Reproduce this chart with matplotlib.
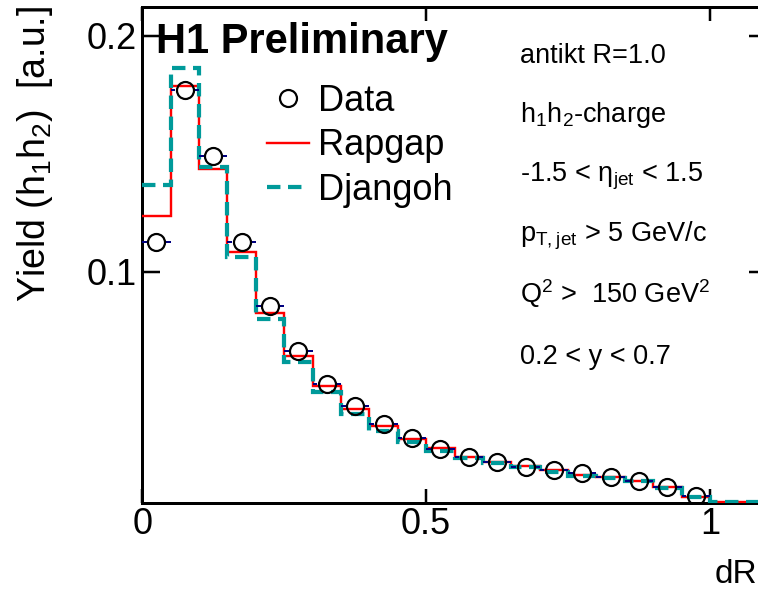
import numpy as np
import matplotlib
matplotlib.use("Agg")
import matplotlib.pyplot as plt
from matplotlib.lines import Line2D

plt.rcParams['font.family'] = ['Liberation Sans', 'DejaVu Sans']
plt.rcParams['mathtext.default'] = 'regular'

# ---- data ----
bin_edges = np.round(np.arange(0, 1.1001, 0.05), 3)          # 22 bins, 0 .. 1.1
data_x = np.round(np.arange(0.025, 1.0, 0.05), 3)             # 20 data points
data_y = [0.1127, 0.1770, 0.1490, 0.1125, 0.0855, 0.0665, 0.0524, 0.0431,
          0.0355, 0.0294, 0.0247, 0.0214, 0.0192, 0.0174, 0.0160, 0.0146,
          0.0129, 0.0114, 0.0089, 0.0050]
rapgap = [0.1236, 0.1787, 0.1434, 0.1082, 0.0824, 0.0643, 0.0517, 0.0418,
          0.0346, 0.0290, 0.0254, 0.0216, 0.0195, 0.0177, 0.0160, 0.0139,
          0.0131, 0.0114, 0.0086, 0.0047, 0.0022, 0.0022]
djangoh = [0.1366, 0.1862, 0.1445, 0.1061, 0.0798, 0.0619, 0.0492, 0.0396,
           0.0326, 0.0280, 0.0240, 0.0212, 0.0188, 0.0171, 0.0153, 0.0134,
           0.0127, 0.0113, 0.0085, 0.0047, 0.0022, 0.0022]
xticks = [0, 0.5, 1]
xticklabels = ['0', '0.5', '1']
yticks = [0.1, 0.2]
yticklabels = ['0.1', '0.2']
info_lines = ['antikt R=1.0',
              'h$_1$h$_2$-charge',
              '-1.5 < η$_{jet}$ < 1.5',
              'p$_{T,jet}$ > 5 GeV/c',
              'Q$^2$ >  150 GeV$^2$',
              '0.2 < y < 0.7']

W, H = 758, 593
fig = plt.figure(figsize=(W / 100, H / 100), dpi=100)
PX = 0.72  # points per pixel

def fx(px):
    return px / W

def fy(py):
    return (H - py) / H

ax = fig.add_axes([fx(142.3), fy(502.7), 624.5 / W, 495.7 / H])
ax.set_xlim(0, 1.1)
ax.set_ylim(0.0021, 0.2122)

teal = '#009a9a'
ax.stairs(rapgap, bin_edges, color='#ff0000', lw=2.4 * PX, baseline=None,
          zorder=3)
ax.stairs(djangoh, bin_edges, color=teal, lw=4.2 * PX, baseline=None,
          linestyle=(0, (3.2, 1.8)), zorder=4)

# x error bars (drawn with a gap around the marker)
dx = np.array(data_x)
dy = np.array(data_y)
half = 0.025
r = 9.5 / 567.7
ax.hlines(dy, dx - half, dx - r, color='#000080', lw=2 * PX, zorder=5)
ax.hlines(dy, dx + r, dx + half, color='#000080', lw=2 * PX, zorder=5)
ax.plot(dx, dy, linestyle='none', marker='o', ms=17 * PX, mfc='none',
        mec='black', mew=2.2 * PX, zorder=6)

# axes styling
for s in ax.spines.values():
    s.set_linewidth(3 * PX)
ax.set_xticks(xticks)
ax.set_xticklabels(xticklabels)
ax.set_yticks(yticks)
ax.set_yticklabels(yticklabels)
ax.tick_params(axis='x', which='major', direction='in', length=14 * PX,
               width=2.5 * PX, labelsize=26, pad=3, top=True)
ax.tick_params(axis='y', which='major', direction='in', length=18 * PX,
               width=2.5 * PX, labelsize=26, pad=4, right=True)
ax.minorticks_off()

# titles / labels
fig.text(fx(156), fy(53), 'H1 Preliminary', fontsize=30, fontweight='bold',
         ha='left', va='baseline')
fig.text(fx(35), fy(6), 'Yield (h$_1$h$_2$)  [a.u.]', fontsize=27,
         rotation=90, ha='center', va='top')
fig.text(fx(715), fy(583), 'dR', fontsize=24, ha='left', va='baseline')

base = [63, 122, 182, 242, 303, 364]
for t, b in zip(info_lines, base):
    fig.text(fx(520), fy(b), t, fontsize=19.5, ha='left', va='baseline')

# legend
handles = [Line2D([], [], linestyle='none', marker='o', ms=17 * PX, mfc='none',
                  mec='black', mew=2.2 * PX),
           Line2D([], [], color='#ff0000', lw=2.4 * PX),
           Line2D([], [], color=teal, lw=4.2 * PX, linestyle=(0, (3.2, 1.8)))]
leg = fig.legend(handles, ['Data', 'Rapgap', 'Djangoh'], loc='upper left',
                 bbox_to_anchor=(fx(267), fy(84)), frameon=False, fontsize=26,
                 borderpad=0, borderaxespad=0, handlelength=1.17,
                 handletextpad=0.25, labelspacing=0.26)

fig.savefig('out.png', dpi=100)
